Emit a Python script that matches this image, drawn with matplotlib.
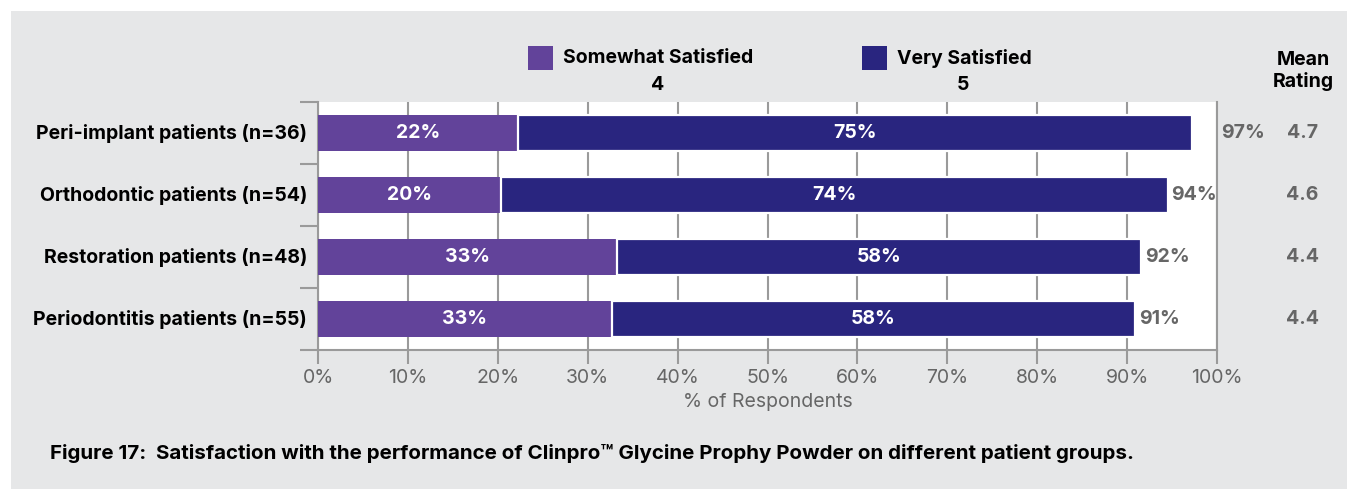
import numpy as np
import matplotlib
matplotlib.use('Agg')
from matplotlib import pyplot as plt
from matplotlib.patches import Rectangle

plt.rcParams['font.family'] = ['Inter', 'DejaVu Sans']

# data (top to bottom)
groups = ['Peri-implant patients (n=36)', 'Orthodontic patients (n=54)',
          'Restoration patients (n=48)', 'Periodontitis patients (n=55)']
somewhat = [22.2, 20.4, 33.3, 32.7]
very = [75.0, 74.1, 58.3, 58.2]
somewhat_lbl = ['22%', '20%', '33%', '33%']
very_lbl = ['75%', '74%', '58%', '58%']
total_lbl = ['97%', '94%', '92%', '91%']
mean_rating = ['4.7', '4.6', '4.4', '4.4']

purple = '#62439a'
navy = '#29257f'
bg = '#e6e7e8'
gray_line = '#9a9a9a'
gray_txt = '#666666'

fig = plt.figure(figsize=(13.47, 4.90), dpi=100)
fig.patch.set_facecolor('white')
fig.patches.append(Rectangle((11/1347, 0.003), 1 - 11/1347, 1 - 11/490 - 0.003,
                             transform=fig.transFigure, facecolor=bg,
                             edgecolor='none', zorder=-10))

ax = fig.add_axes([318/1347, 1 - 350/490, 899/1347, 248/490])
ax.set_facecolor('white')

y = np.arange(len(groups)) + 0.5
h = 0.565
ax.barh(y, somewhat, height=h, color=purple, zorder=3)
ax.barh(y, very, left=somewhat, height=h, color=navy, edgecolor='white',
        linewidth=1.6, zorder=3)

fs = 14
for i in range(len(groups)):
    ax.text(somewhat[i] / 2, y[i], somewhat_lbl[i], ha='center', va='center',
            color='white', fontsize=fs, fontweight='bold', zorder=4)
    ax.text(somewhat[i] + very[i] / 2, y[i], very_lbl[i], ha='center', va='center',
            color='white', fontsize=fs, fontweight='bold', zorder=4)
    tot = somewhat[i] + very[i]
    tx = tot + 0.4 if tot + 5.2 < 100 else 100.5
    ax.text(tx, y[i], total_lbl[i], ha='left', va='center', color=gray_txt,
            fontsize=fs, fontweight='bold', clip_on=False)
    ax.text(109.5, y[i], mean_rating[i], ha='center', va='center', color=gray_txt,
            fontsize=fs, fontweight='bold', clip_on=False)
    ax.text(-1.2, y[i], groups[i], ha='right', va='center', color='black',
            fontsize=fs, fontweight='bold', clip_on=False)

fig.text(1303/1347, 1 - 71/490, 'Mean\nRating', ha='center', va='center',
         fontsize=fs, fontweight='bold', linespacing=1.2)

ax.set_xlim(0, 100)
ax.set_ylim(len(groups), 0)
ax.set_xticks(np.arange(0, 101, 10))
ax.set_xticklabels([f'{v}%' for v in range(0, 101, 10)])
ax.set_yticks(np.arange(0, len(groups) + 1))
ax.set_yticklabels([])
ax.tick_params(axis='x', colors=gray_line, labelcolor=gray_txt, labelsize=fs,
               length=10, width=1.5, pad=4)
ax.tick_params(axis='y', colors=gray_line, length=13, width=1.5)
ax.grid(axis='x', color=gray_line, linewidth=1.5, zorder=0)
ax.set_axisbelow(True)
for s in ['left', 'right', 'bottom']:
    ax.spines[s].set_color(gray_line)
    ax.spines[s].set_linewidth(1.5)
ax.spines['top'].set_visible(False)
ax.set_xlabel('% of Respondents', color=gray_txt, fontsize=fs, labelpad=4)

# legend drawn by hand at the top
legend_items = [('Somewhat Satisfied', '4', purple, 528, 658),
                ('Very Satisfied', '5', navy, 862, 963)]
for name, score, col, x0, xs in legend_items:
    fig.patches.append(Rectangle((x0/1347, 1 - 70/490), 25/1347, 24/490,
                                 transform=fig.transFigure, facecolor=col,
                                 edgecolor='none'))
    fig.text((x0 + 35)/1347, 1 - 58/490, name, ha='left', va='center',
             fontsize=fs, fontweight='bold')
    fig.text(xs/1347, 1 - 85/490, score, ha='center', va='center',
             fontsize=fs, fontweight='bold')

fig.text(50/1347, 1 - 453/490,
         'Figure 17:  Satisfaction with the performance of Clinpro\u2122 Glycine '
         'Prophy Powder on different patient groups.',
         ha='left', va='center', fontsize=14.8, fontweight='bold')

fig.savefig('out.png', dpi=100, facecolor=fig.get_facecolor())
